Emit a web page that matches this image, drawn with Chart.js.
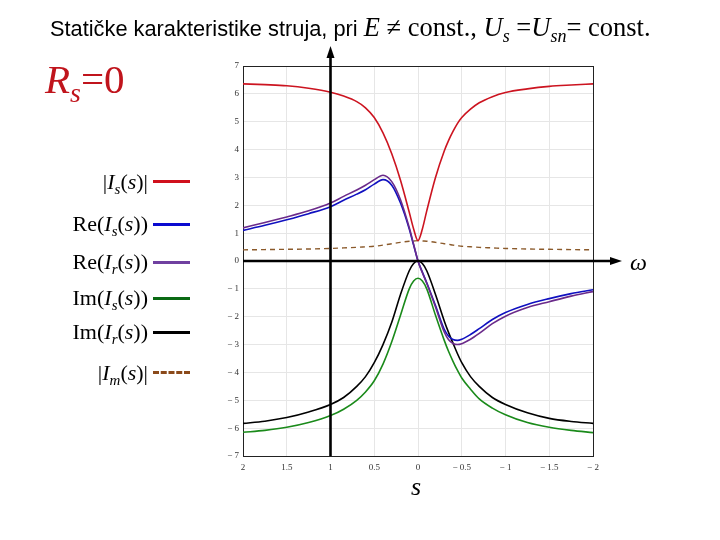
<!DOCTYPE html>
<html><head><meta charset="utf-8">
<script src="https://cdn.jsdelivr.net/npm/chart.js@4/dist/chart.umd.min.js"></script>
<style>
body{margin:0;background:#fff;width:720px;height:540px;overflow:hidden;position:relative;}
canvas{position:absolute;left:0;top:0;}
.t{position:absolute;white-space:nowrap;line-height:1;}
.serif{font-family:"Liberation Serif","Times New Roman",serif;}
.sub{font-size:0.68em;position:relative;top:0.32em;}
.leg{position:absolute;right:572px;font-family:"Liberation Serif","Times New Roman",serif;font-size:22px;white-space:nowrap;line-height:1;}
.sw{position:absolute;left:153px;width:37px;height:3px;}
</style></head><body>
<canvas id="c" width="720" height="540"></canvas>

<div class="t" style="left:50px;top:14px;font-family:'Liberation Sans',Arial,sans-serif;font-size:21.8px;">Statičke karakteristike struja, pri <span class="serif" style="font-size:26.5px;"><i>E</i> ≠ const., <i>U<span class="sub">s</span></i> =<i>U<span class="sub">sn</span></i>= const.</span></div>

<div class="t serif" style="left:45px;top:59px;font-size:41px;color:#c0141c;"><i>R<span class="sub">s</span></i>=0</div>

<div class="leg" style="top:171px;">|<i>I<span class="sub">s</span></i>(<i>s</i>)|</div>
<div class="sw" style="top:180px;background:#d0101c;"></div>
<div class="leg" style="top:213px;">Re(<i>I<span class="sub">s</span></i>(<i>s</i>))</div>
<div class="sw" style="top:223px;background:#0a0ad0;"></div>
<div class="leg" style="top:251px;">Re(<i>I<span class="sub">r</span></i>(<i>s</i>))</div>
<div class="sw" style="top:261px;background:#7040a0;"></div>
<div class="leg" style="top:287px;">Im(<i>I<span class="sub">s</span></i>(<i>s</i>))</div>
<div class="sw" style="top:297px;background:#0a6a14;"></div>
<div class="leg" style="top:321px;">Im(<i>I<span class="sub">r</span></i>(<i>s</i>))</div>
<div class="sw" style="top:331px;background:#000;"></div>
<div class="leg" style="top:362px;">|<i>I<span class="sub">m</span></i>(<i>s</i>)|</div>
<div class="sw" style="top:371px;height:0;border-top:3px dashed #8b4a1a;background:none;"></div>

<div class="t serif" style="left:630px;top:250px;font-size:24px;"><i>ω</i></div>
<div class="t serif" style="left:411px;top:474px;font-size:26px;"><i>s</i></div>

<script>
// s (slip) positions, shared by every series
const sValues = [2, 1.75, 1.5, 1.25, 1, 0.85, 0.7, 0.6, 0.5, 0.4, 0.3, 0.2, 0.1, 0.05, 0,
                 -0.05, -0.1, -0.2, -0.3, -0.35, -0.4, -0.45, -0.5, -0.6, -0.7, -0.85, -1, -1.25, -1.5, -1.75, -2];
// |Is(s)|
const absIs = [6.36, 6.33, 6.29, 6.2, 6.06, 5.92, 5.72, 5.5, 5.15, 4.6, 3.85, 2.9, 1.75, 1.15, 0.73,
               1.15, 1.8, 3.0, 3.95, 4.33, 4.65, 4.93, 5.15, 5.45, 5.68, 5.9, 6.05, 6.18, 6.27, 6.32, 6.36];
// Re(Is(s))
const reIs = [1.1, 1.28, 1.48, 1.7, 1.95, 2.18, 2.4, 2.56, 2.76, 2.92, 2.72, 2.08, 1.15, 0.57, 0,
              -0.4, -0.78, -1.6, -2.45, -2.7, -2.82, -2.85, -2.81, -2.64, -2.43, -2.1, -1.85, -1.56, -1.35, -1.17, -1.03];
// Re(Ir(s))
const reIr = [1.19, 1.38, 1.58, 1.8, 2.08, 2.32, 2.55, 2.72, 2.92, 3.08, 2.85, 2.2, 1.2, 0.6, 0,
              -0.42, -0.8, -1.65, -2.55, -2.83, -2.96, -3.0, -2.97, -2.81, -2.6, -2.25, -1.98, -1.67, -1.46, -1.26, -1.1];
// Im(Is(s))
const imIs = [-6.15, -6.08, -5.97, -5.8, -5.55, -5.32, -5.0, -4.7, -4.3, -3.7, -2.9, -1.95, -1.0, -0.72, -0.62,
              -0.72, -1.0, -1.95, -2.85, -3.25, -3.6, -3.92, -4.2, -4.6, -4.95, -5.28, -5.52, -5.8, -5.97, -6.08, -6.16];
// Im(Ir(s))
const imIr = [-5.83, -5.75, -5.62, -5.42, -5.15, -4.9, -4.5, -4.15, -3.65, -3.0, -2.2, -1.2, -0.35, -0.09, 0,
              -0.09, -0.35, -1.2, -2.15, -2.57, -2.95, -3.32, -3.65, -4.15, -4.5, -4.9, -5.15, -5.45, -5.65, -5.76, -5.83];
// |Im(s)|
const absIm = [0.4, 0.41, 0.42, 0.43, 0.45, 0.47, 0.49, 0.51, 0.53, 0.57, 0.62, 0.67, 0.71, 0.72, 0.73,
               0.72, 0.71, 0.67, 0.62, 0.6, 0.57, 0.55, 0.53, 0.51, 0.49, 0.47, 0.45, 0.43, 0.42, 0.41, 0.4];

function pts(arr){ return sValues.map((s,i)=>({x:s, y:arr[i]})); }
function fmt(v){ return v < 0 ? '\u2212 ' + Math.abs(v) : String(v); }

const frame = {
  id:'frame',
  beforeDatasetsDraw(chart){
    const {ctx, chartArea:a} = chart;
    ctx.save();
    ctx.strokeStyle = '#222';
    ctx.lineWidth = 1;
    ctx.strokeRect(a.left+0.5, a.top+0.5, a.right-a.left, a.bottom-a.top);
    ctx.restore();
  },
  afterDatasetsDraw(chart){
    const {ctx, chartArea:a, scales} = chart;
    const x1 = scales.x.getPixelForValue(1);
    const y0 = scales.y.getPixelForValue(0);
    ctx.save();
    ctx.strokeStyle = '#000'; ctx.fillStyle = '#000';
    ctx.lineWidth = 2.6;
    // vertical axis at s = 1
    ctx.beginPath(); ctx.moveTo(x1, a.bottom); ctx.lineTo(x1, 56); ctx.stroke();
    ctx.beginPath(); ctx.moveTo(x1, 46); ctx.lineTo(x1-4, 58); ctx.lineTo(x1+4, 58); ctx.closePath(); ctx.fill();
    // horizontal axis at 0
    ctx.beginPath(); ctx.moveTo(a.left, y0); ctx.lineTo(612, y0); ctx.stroke();
    ctx.beginPath(); ctx.moveTo(622, y0); ctx.lineTo(610, y0-4); ctx.lineTo(610, y0+4); ctx.closePath(); ctx.fill();
    ctx.restore();
  }
};

const common = {fill:false, pointRadius:0, borderWidth:1.6, cubicInterpolationMode:'monotone'};

new Chart(document.getElementById('c'), {
  type:'line',
  data:{
    datasets:[
      {...common, label:'|Im(s)|', data:pts(absIm), borderColor:'#8b5a2b', borderDash:[5,4], borderWidth:1.4, order:6},
      {...common, label:'Im(Is(s))', data:pts(imIs), borderColor:'#1a8a1a', order:5},
      {...common, label:'Im(Ir(s))', data:pts(imIr), borderColor:'#000000', order:4},
      {...common, label:'|Is(s)|', data:pts(absIs), borderColor:'#cc1420', order:3},
      {...common, label:'Re(Is(s))', data:pts(reIs), borderColor:'#1010c0', order:2},
      {...common, label:'Re(Ir(s))', data:pts(reIr), borderColor:'#6a2a8a', order:1}
    ]
  },
  options:{
    responsive:false, animation:false, devicePixelRatio:1,
    layout:{padding:{left:0, right:127, top:66, bottom:0}},
    plugins:{legend:{display:false}, tooltip:{enabled:false}},
    scales:{
      x:{type:'linear', reverse:true, min:-2, max:2,
         afterFit(s){ s.height = 84; },
         border:{display:false},
         grid:{color:'#e6e6e6', drawTicks:false},
         ticks:{stepSize:0.5, padding:6, maxRotation:0, autoSkip:false, color:'#333',
                font:{family:'Liberation Serif', size:9}, callback:v=>fmt(v)}},
      y:{min:-7, max:7,
         afterFit(s){ s.width = 243; },
         border:{display:false},
         grid:{color:'#e6e6e6', drawTicks:false},
         ticks:{stepSize:1, padding:4, autoSkip:false, color:'#333',
                font:{family:'Liberation Serif', size:9}, callback:v=>fmt(v)}}
    }
  },
  plugins:[frame]
});
</script>
</body></html>
